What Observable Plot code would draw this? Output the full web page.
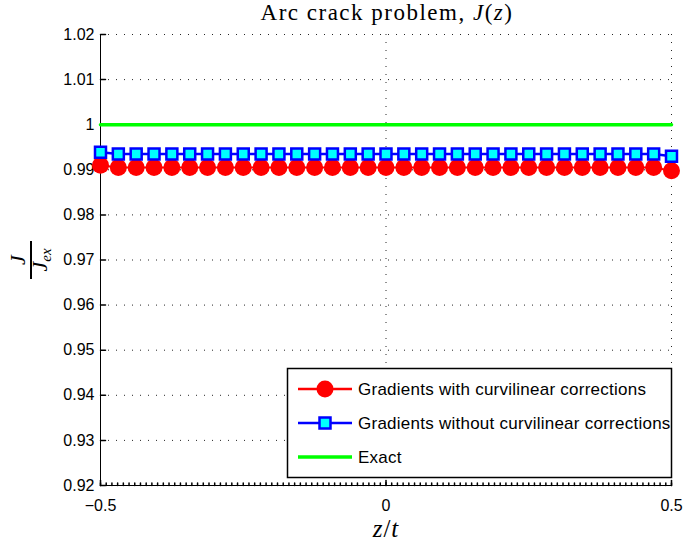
<!DOCTYPE html>
<html>
<head>
<meta charset="utf-8">
<script src="https://cdn.jsdelivr.net/npm/d3@7"></script>
<script src="https://cdn.jsdelivr.net/npm/@observablehq/plot@0.6"></script>
<style>
  html, body { margin: 0; padding: 0; background: #fff; }
  #chart svg { display: block; }
</style>
</head>
<body>
<div id="chart"></div>
<script>
// ---- data ----
const zt = [-0.5, -0.46875, -0.4375, -0.40625, -0.375, -0.34375, -0.3125, -0.28125, -0.25,
  -0.21875, -0.1875, -0.15625, -0.125, -0.09375, -0.0625, -0.03125, 0,
  0.03125, 0.0625, 0.09375, 0.125, 0.15625, 0.1875, 0.21875, 0.25,
  0.28125, 0.3125, 0.34375, 0.375, 0.40625, 0.4375, 0.46875, 0.5];
const withCorr = [0.9910, 0.9905, 0.9905, 0.9905, 0.9905, 0.9905, 0.9905, 0.9905, 0.9905,
  0.9905, 0.9905, 0.9905, 0.9905, 0.9905, 0.9905, 0.9905, 0.9905,
  0.9905, 0.9905, 0.9905, 0.9905, 0.9905, 0.9905, 0.9905, 0.9905,
  0.9905, 0.9905, 0.9905, 0.9905, 0.9905, 0.9905, 0.9905, 0.9898];
const withoutCorr = [0.9939, 0.9935, 0.9935, 0.9935, 0.9935, 0.9935, 0.9935, 0.9935, 0.9935,
  0.9935, 0.9935, 0.9935, 0.9935, 0.9935, 0.9935, 0.9935, 0.9935,
  0.9935, 0.9935, 0.9935, 0.9935, 0.9935, 0.9935, 0.9935, 0.9935,
  0.9935, 0.9935, 0.9935, 0.9935, 0.9935, 0.9935, 0.9935, 0.9930];
const exactX = [-0.5, 0.5];
const exactY = [1, 1];
const xTicks = [-0.5, 0, 0.5];
const yTicks = [0.92, 0.93, 0.94, 0.95, 0.96, 0.97, 0.98, 0.99, 1.00, 1.01, 1.02];
const legendLabels = ["Gradients with curvilinear corrections",
  "Gradients without curvilinear corrections", "Exact"];

const red = zt.map((x, i) => ({x, y: withCorr[i]}));
const blue = zt.map((x, i) => ({x, y: withoutCorr[i]}));
const exact = exactX.map((x, i) => ({x, y: exactY[i]}));
const xMinor = d3.range(-50, 51).map(i => i / 100);

const tickShape = {draw(ctx, l) { ctx.moveTo(0, 0); ctx.lineTo(0, -l); }};
const fmt = d => { const s = String(+d.toFixed(2)); return s.replace("-", "\u2212"); };
const sans = "'Liberation Sans', Arial, sans-serif";
const serif = "'Liberation Serif', 'DejaVu Serif', serif";

const chart = Plot.plot({
  width: 685,
  height: 546,
  marginLeft: 100,
  marginRight: 14,
  marginTop: 34,
  marginBottom: 61,
  style: {fontFamily: sans, fontSize: "16px", color: "#000", background: "#fff"},
  x: {domain: [-0.5, 0.5]},
  y: {domain: [0.92, 1.02]},
  marks: [
    Plot.gridY(yTicks.filter(d => d > 0.92), {stroke: "#000", strokeOpacity: 0.85, strokeDasharray: "1,7"}),
    Plot.gridX([0, 0.5], {stroke: "#000", strokeOpacity: 0.85, strokeDasharray: "1,7"}),
    Plot.ruleX([-0.5], {stroke: "#000"}),
    Plot.ruleY([0.92], {stroke: "#000"}),
    Plot.vector(yTicks, {y: d => d, frameAnchor: "left", length: 5, rotate: 90, anchor: "start", shape: tickShape, stroke: "#000"}),
    Plot.vector(xTicks, {x: d => d, frameAnchor: "bottom", length: 5, rotate: 0, anchor: "start", shape: tickShape, stroke: "#000"}),
    Plot.vector(xMinor, {x: d => d, frameAnchor: "bottom", length: 2.5, rotate: 0, anchor: "start", shape: tickShape, stroke: "#000"}),
    Plot.axisY(yTicks, {tickSize: 0, tickPadding: 6, tickFormat: fmt, label: null, fontSize: 16}),
    Plot.axisX(xTicks, {tickSize: 0, tickPadding: 14, tickFormat: fmt, label: null, fontSize: 16}),
    Plot.line(exact, {x: "x", y: "y", stroke: "#00ff00", strokeWidth: 3.5}),
    Plot.line(red, {x: "x", y: "y", stroke: "#ff0000", strokeWidth: 2}),
    Plot.dot(red, {x: "x", y: "y", r: 8.5, fill: "#ff0000", stroke: "none"}),
    Plot.line(blue, {x: "x", y: "y", stroke: "#0000ff", strokeWidth: 2.5}),
    Plot.dot(blue, {x: "x", y: "y", symbol: "square", r: 6.2, fill: "#00ffff", stroke: "#0000ff", strokeWidth: 2.5})
  ]
});
document.getElementById("chart").appendChild(chart);

const svg = d3.select(chart);

// Title
const title = svg.append("text").attr("x", 387).attr("y", 20).attr("text-anchor", "middle")
  .attr("font-family", serif).attr("font-size", 23).attr("letter-spacing", 1.5).attr("fill", "#000");
title.append("tspan").text("Arc crack problem, ");
title.append("tspan").attr("font-style", "italic").text("J");
title.append("tspan").text("(");
title.append("tspan").attr("font-style", "italic").text("z");
title.append("tspan").text(")");

// X label
const xl = svg.append("text").attr("x", 386).attr("y", 537).attr("text-anchor", "middle")
  .attr("font-family", serif).attr("font-size", 25).attr("letter-spacing", 1).attr("fill", "#000");
xl.append("tspan").attr("font-style", "italic").text("z");
xl.append("tspan").text("/");
xl.append("tspan").attr("font-style", "italic").text("t");

// Y label: fraction J / J_ex rotated
const yl = svg.append("g").attr("transform", "translate(31,260) rotate(-90)");
yl.append("text").attr("x", 0).attr("y", -6).attr("text-anchor", "middle")
  .attr("font-family", serif).attr("font-size", 22).attr("font-style", "italic").text("J");
yl.append("line").attr("x1", -19).attr("x2", 19).attr("y1", 0).attr("y2", 0)
  .attr("stroke", "#000").attr("stroke-width", 2);
const den = yl.append("text").attr("x", 0).attr("y", 16).attr("text-anchor", "middle")
  .attr("font-family", serif).attr("font-size", 22).attr("font-style", "italic");
den.append("tspan").text("J");
den.append("tspan").attr("font-size", 15).attr("dy", 4).text("ex");

// Legend
const lg = svg.append("g");
lg.append("rect").attr("x", 287.5).attr("y", 368.5).attr("width", 384).attr("height", 109)
  .attr("fill", "#fff").attr("stroke", "#000").attr("stroke-width", 1.5);
const ly = [389, 423, 457];
const lcol = ["#ff0000", "#0000ff", "#00ff00"];
legendLabels.forEach((lab, i) => {
  lg.append("line").attr("x1", 298).attr("x2", 352).attr("y1", ly[i]).attr("y2", ly[i])
    .attr("stroke", lcol[i]).attr("stroke-width", i === 2 ? 3.5 : 2.5);
  if (i === 0) lg.append("circle").attr("cx", 325).attr("cy", ly[i]).attr("r", 8.5).attr("fill", "#ff0000");
  if (i === 1) lg.append("rect").attr("x", 319.5).attr("y", ly[i] - 5.5).attr("width", 11).attr("height", 11)
    .attr("fill", "#00ffff").attr("stroke", "#0000ff").attr("stroke-width", 2.5);
  lg.append("text").attr("x", 358).attr("y", ly[i] + 6).attr("text-anchor", "start")
    .attr("font-family", sans).attr("font-size", 17).attr("letter-spacing", 0.25)
    .attr("fill", "#000").text(lab);
});
</script>
</body>
</html>
